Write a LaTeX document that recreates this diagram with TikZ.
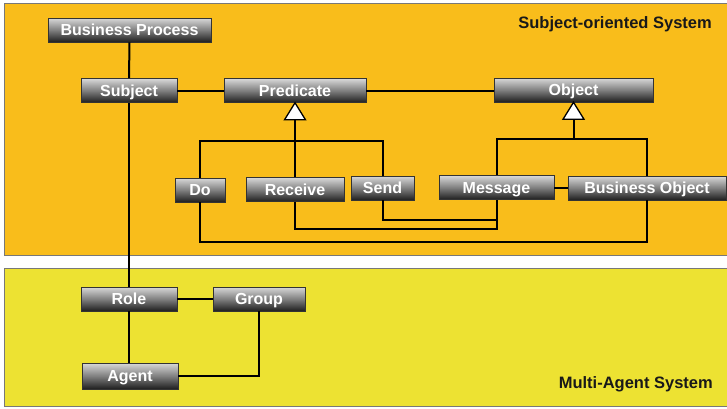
\documentclass[tikz,border=0pt]{standalone}
\usepackage{fontspec}
\setmainfont{Liberation Sans}
\definecolor{sospanel}{RGB}{249,189,27}
\definecolor{maspanel}{RGB}{237,226,50}
\definecolor{panelline}{RGB}{120,120,120}
\begin{document}
\begin{tikzpicture}[x=1pt,y=-1pt,
  box/.style={draw=black!80, line width=0.6pt,
    top color=black!15, bottom color=black!88, middle color=black!50,
    text=white, font=\bfseries\fontsize{16}{18}\selectfont,
    inner sep=0pt, minimum height=24pt, text height=11.5pt, text depth=0pt},
  wire/.style={draw=black, line width=2pt},
  gen/.style={draw=black, line width=1.3pt, fill=white, line join=miter},
  panel/.style={draw=panelline, line width=0.8pt},
  title/.style={anchor=east, inner sep=0pt, text=black!90,
    font=\bfseries\fontsize{16.5}{18}\selectfont}]
\useasboundingbox (0,0) rectangle (727,408);

% two system areas
\fill[white] (0,0) rectangle (727,408);
\draw[panel, fill=sospanel] (4,3) rectangle (735,255);
\draw[panel, fill=maspanel] (4,268) rectangle (735,406);
\node[title] (sostitle) at (712,24) {Subject-oriented System};
\node[title] (mastitle) at (713,384) {Multi-Agent System};

% subject-oriented concepts
\node[box, minimum width=163pt] (bp)    at (129.5,30)  {Business Process};
\node[box, minimum width=96pt]  (subj)  at (129,90.5)  {Subject};
\node[box, minimum width=142pt] (pred)  at (295,90.5)  {Predicate};
\node[box, minimum width=159pt] (obj)   at (573.5,90)  {Object};
\node[box, minimum width=50pt]  (do)    at (200,190)   {Do};
\node[box, minimum width=98pt]  (recv)  at (295,189.5) {Receive};
\node[box, minimum width=63pt]  (send)  at (382.5,188) {Send};
\node[box, minimum width=115pt] (msg)   at (496.5,187.5) {Message};
\node[box, minimum width=158pt] (bo)    at (647,188)   {Business Object};

% multi-agent concepts
\node[box, minimum width=96pt]  (role)  at (129,299)   {Role};
\node[box, minimum width=92pt]  (group) at (259,299)   {Group};
\node[box, minimum width=96pt, minimum height=26pt] (agent) at (130,376) {Agent};

% associations
\draw[wire] (bp.south) -- (subj.north);
\draw[wire] (subj.east) -- (subj.east -| pred.west);
\draw[wire] (pred.east) -- (pred.east -| obj.west);
\draw[wire] (subj.south) -- (role.north);
\draw[wire] (role.east) -- (role.east -| group.west);
\draw[wire] (role.south) -- (role.south |- agent.north);
\draw[wire] (group.south) |- (agent.east);
\draw[wire] (msg.east) -- (msg.east -| bo.west);

% Predicate specialisations
\path (pred.south) ++(0,17) coordinate (pbase) ++(0,21) coordinate (pbar);
\draw[wire] (pbase) -- (pbar);
\draw[wire] (do.north) |- (send.north |- pbar) -- (send.north);
\draw[wire] (recv.north) -- (recv.north |- pbar);
\draw[gen] (pred.south) -- ++(-10.5,17) -- ++(21,0) -- cycle;

% Object specialisations
\path (obj.south) ++(0,17) coordinate (obase) ++(0,20) coordinate (obar);
\draw[wire] (obase) -- (obar);
\draw[wire] (msg.north) |- (bo.north |- obar) -- (bo.north);
\draw[gen] (obj.south) -- ++(-10.5,17) -- ++(21,0) -- cycle;

% predicates acting on objects
\draw[wire] (send.south) |- ([yshift=-20pt]msg.south) -- (msg.south);
\draw[wire] (recv.south) |- ([yshift=-29pt]msg.south) -- (msg.south);
\draw[wire] (do.south) |- ([yshift=-42pt]bo.south) -- (bo.south);
\end{tikzpicture}
\end{document}
